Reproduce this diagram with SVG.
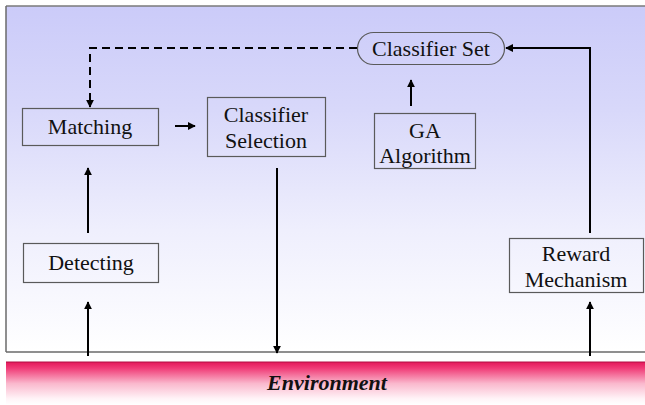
<svg xmlns="http://www.w3.org/2000/svg" width="645" height="405" viewBox="0 0 645 405">
  <defs>
    <linearGradient id="panelFill" x1="0" y1="0" x2="0" y2="1">
      <stop offset="0" stop-color="#cbcbf9"/>
      <stop offset="0.3" stop-color="#d8d8fa"/>
      <stop offset="0.65" stop-color="#efeffd"/>
      <stop offset="1" stop-color="#ffffff"/>
    </linearGradient>
    <linearGradient id="envFill" x1="0" y1="0" x2="0" y2="1">
      <stop offset="0" stop-color="#e4175a"/>
      <stop offset="0.15" stop-color="#f03d78"/>
      <stop offset="0.5" stop-color="#fab8cd"/>
      <stop offset="0.85" stop-color="#fff3f7"/>
      <stop offset="1" stop-color="#ffffff"/>
    </linearGradient>
    <marker id="arrow" viewBox="0 0 10 10" refX="9" refY="5" markerWidth="4" markerHeight="4" markerUnits="strokeWidth" orient="auto">
      <path d="M0,0 L10,5 L0,10 z" fill="#000"/>
    </marker>
    <style>
      .box { fill: none; stroke: #5a5a5a; stroke-width: 1.2; }
      .label { font-family: "Liberation Serif", "Times New Roman", serif; font-size: 22px; fill: #111; text-anchor: middle; }
      .link { fill: none; stroke: #000; stroke-width: 2; marker-end: url(#arrow); }
      .dash { stroke-dasharray: 8 5; }
    </style>
  </defs>

  <!-- background panel -->
  <rect x="6" y="6" width="645" height="346" fill="url(#panelFill)"/>
  <line x1="6" y1="6" x2="645" y2="6" stroke="#7a7a7a" stroke-width="1.5"/>
  <line x1="6" y1="6" x2="6" y2="352" stroke="#6a6a6a" stroke-width="1.5"/>
  <line x1="6" y1="352" x2="645" y2="352" stroke="#6a6a6a" stroke-width="1.5"/>

  <!-- environment bar -->
  <g id="environment">
    <rect x="6" y="362" width="639" height="43" fill="url(#envFill)"/>
    <line x1="6" y1="362" x2="645" y2="362" stroke="#b01045" stroke-width="1"/>
    <text x="327" y="390" font-family="'Liberation Serif', 'Times New Roman', serif" font-size="22" font-weight="bold" font-style="italic" text-anchor="middle" fill="#111">Environment</text>
  </g>

  <!-- connectors -->
  <g id="connectors">
    <path class="link dash" d="M357,48 H90 V107"/>
    <path class="link" d="M175,126 H195"/>
    <path class="link" d="M277,168 V353"/>
    <path class="link" d="M411,106 V80"/>
    <path class="link" d="M590,233 V48 H506"/>
    <path class="link" d="M88,233 V168"/>
    <path class="link" d="M88,356 V302"/>
    <path class="link" d="M590,356 V302"/>
  </g>

  <g id="classifier-set">
    <rect class="box" x="357.5" y="32.5" width="147" height="32" rx="16" ry="16"/>
    <text class="label" x="431" y="56">Classifier Set</text>
  </g>

  <g id="matching">
    <rect class="box" x="22.5" y="108.5" width="136" height="37"/>
    <text class="label" x="90" y="134">Matching</text>
  </g>

  <g id="classifier-selection">
    <rect class="box" x="207.5" y="97.5" width="118" height="59"/>
    <text class="label" x="266" y="122">Classifier</text>
    <text class="label" x="266" y="148">Selection</text>
  </g>

  <g id="ga-algorithm">
    <rect class="box" x="374.5" y="113.5" width="101" height="55"/>
    <text class="label" x="425" y="138">GA</text>
    <text class="label" x="425" y="163">Algorithm</text>
  </g>

  <g id="detecting">
    <rect class="box" x="23.5" y="243.5" width="135" height="39"/>
    <text class="label" x="91" y="270">Detecting</text>
  </g>

  <g id="reward-mechanism">
    <rect class="box" x="509.5" y="238.5" width="134" height="54"/>
    <text class="label" x="576" y="261">Reward</text>
    <text class="label" x="576" y="287">Mechanism</text>
  </g>
</svg>
